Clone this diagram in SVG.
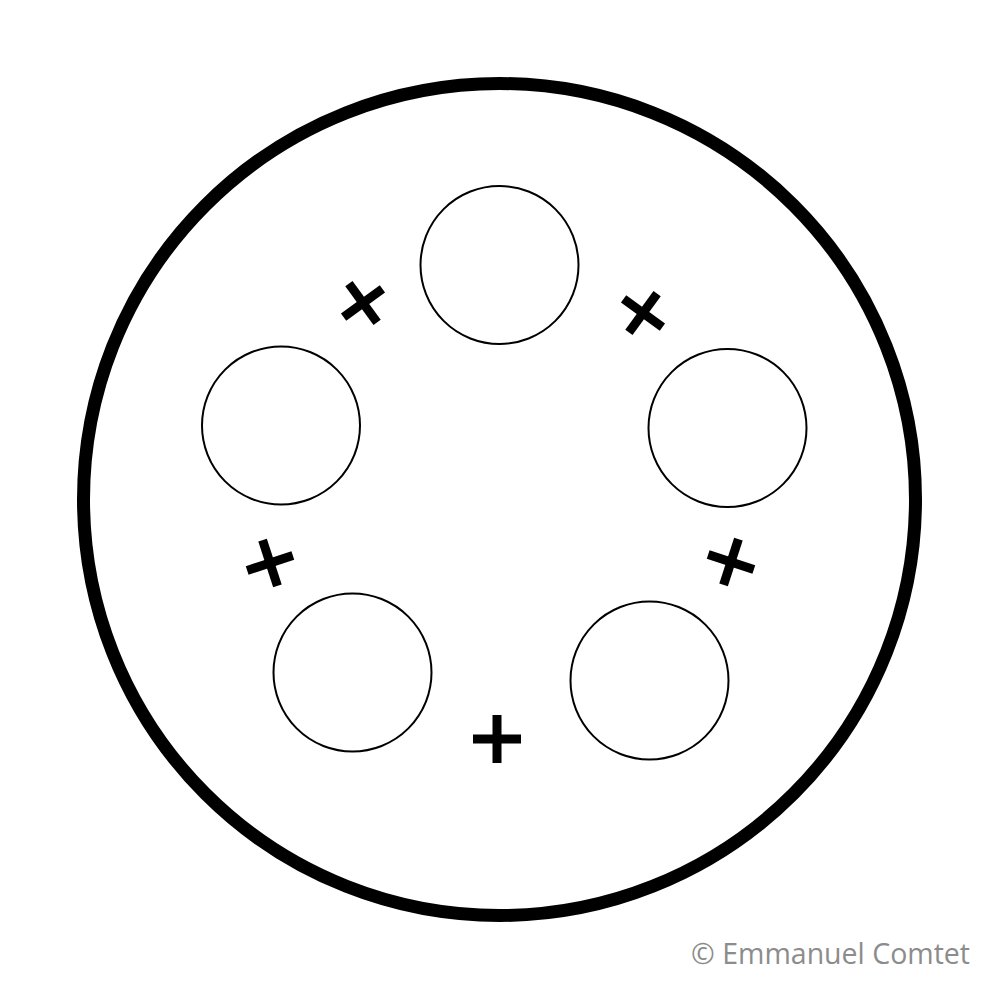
<svg xmlns="http://www.w3.org/2000/svg" width="1000" height="1000" viewBox="0 0 1000 1000">
<style>
.outer{fill:none;stroke:#000;stroke-width:13}
.hole{fill:#fff;stroke:#000;stroke-width:2}
.cross{stroke:#000;stroke-width:9;fill:none}
.credit{font-family:"Open Sans","Liberation Sans",sans-serif;font-size:28.5px;fill:#8c8c8c}
</style>
<defs>
<g id="x"><line x1="-24" y1="0" x2="24" y2="0"/><line x1="0" y1="-24" x2="0" y2="24"/></g>
</defs>
<rect width="1000" height="1000" fill="#fff"/>
<g id="disc"><circle class="outer" cx="499.5" cy="499.5" r="416"/></g>
<g id="hole-top"><circle class="hole" cx="499.5" cy="265" r="79"/></g>
<g id="hole-right"><circle class="hole" cx="727.5" cy="428" r="79"/></g>
<g id="hole-left"><circle class="hole" cx="281" cy="425.5" r="79"/></g>
<g id="hole-bottom-left"><circle class="hole" cx="352.5" cy="672.5" r="79"/></g>
<g id="hole-bottom-right"><circle class="hole" cx="649.5" cy="680.5" r="79"/></g>
<g id="crosses" class="cross">
<use href="#x" transform="translate(363,303) rotate(-36)"/>
<use href="#x" transform="translate(643,313) rotate(36)"/>
<use href="#x" transform="translate(270,563) rotate(-18)"/>
<use href="#x" transform="translate(731,562) rotate(18)"/>
<use href="#x" transform="translate(497,739)"/>
</g>
<text class="credit" x="970" y="964" text-anchor="end">© Emmanuel Comtet</text>
</svg>
